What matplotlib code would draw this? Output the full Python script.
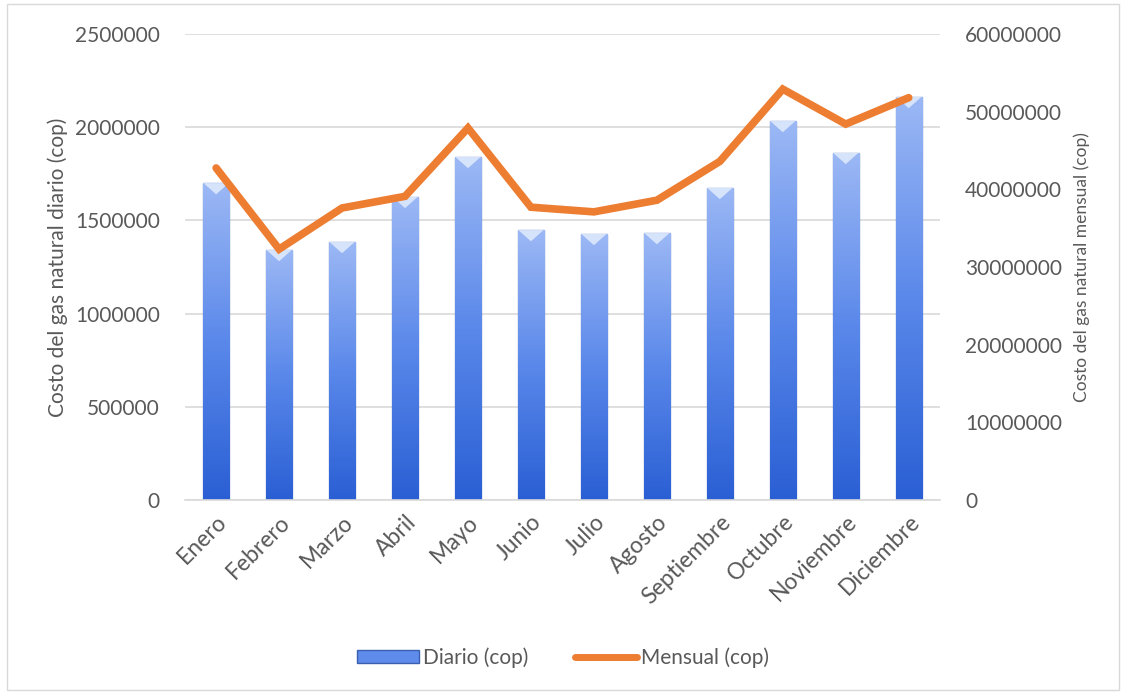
import numpy as np
import matplotlib.pyplot as plt
from matplotlib.patches import Patch, Rectangle
from matplotlib.lines import Line2D
from matplotlib.colors import LinearSegmentedColormap

# Datos
meses = ['Enero', 'Febrero', 'Marzo', 'Abril', 'Mayo', 'Junio', 'Julio',
         'Agosto', 'Septiembre', 'Octubre', 'Noviembre', 'Diciembre']
diario = [1700000, 1341000, 1384000, 1626000, 1840000, 1448000, 1427000,
          1432000, 1674000, 2033000, 1862000, 2162000]
mensual = [42750000, 32300000, 37600000, 39100000, 47900000, 37700000, 37100000,
           38600000, 43600000, 52900000, 48400000, 51800000]

plt.rcParams['font.family'] = ['Lato', 'DejaVu Sans']
gris = '#595959'

fig = plt.figure(figsize=(11.26, 6.94), dpi=100)
# borde exterior
fig.patches.append(Rectangle((0.006, 0.006), 0.988, 0.988, transform=fig.transFigure,
                             fill=False, edgecolor='#d9d9d9', linewidth=1))

ax = fig.add_axes([0.164, 0.2795, 0.671, 0.6715])
ax2 = ax.twinx()

x = np.arange(len(meses))
bars = ax.bar(x, diario, width=0.42, color='#4a7de0', edgecolor='#3a5fae', linewidth=0.9, zorder=2)

# degradado vertical en las barras
cmap = LinearSegmentedColormap.from_list('azul', ['#2a5fd4', '#5a88ea', '#9cb8f5'])
grad = np.linspace(0, 1, 256).reshape(-1, 1)
for b in bars:
    x0, w, h = b.get_x(), b.get_width(), b.get_height()
    im = ax.imshow(grad, cmap=cmap, origin='lower', aspect='auto',
                   extent=[x0, x0 + w, 0, h], zorder=2.1)
    im.set_clip_path(b)
    # bisel superior
    ax.fill([x0 + 0.01, x0 + w - 0.01, x0 + w / 2], [h, h, h - 60000],
            color='#d6e4fb', zorder=2.2, lw=0)

ax2.plot(x, mensual, color='#ED7D31', linewidth=5.5, solid_capstyle='round',
         solid_joinstyle='miter', zorder=3)

ax.set_xlim(-0.5, len(meses) - 0.5)
ax.set_ylim(0, 2500000)
ax2.set_ylim(0, 60000000)
ax.set_yticks(np.arange(0, 2500001, 500000))
ax2.set_yticks(np.arange(0, 60000001, 10000000))
ax.yaxis.set_major_formatter(plt.FuncFormatter(lambda v, p: f'{int(v)}'))
ax2.yaxis.set_major_formatter(plt.FuncFormatter(lambda v, p: f'{int(v)}'))

ax.set_xticks(x)
ax.set_xticklabels(meses, rotation=45, ha='right', rotation_mode='anchor')
ax.grid(axis='y', color='#d9d9d9', linewidth=1.2, zorder=0)
ax.set_axisbelow(True)
ax.set_zorder(ax2.get_zorder() - 1)
ax2.patch.set_visible(False)
ax.patch.set_visible(False)

for a in (ax, ax2):
    for s in a.spines.values():
        s.set_visible(False)
    a.tick_params(length=0, labelsize=15, colors=gris, pad=18)
ax.spines['bottom'].set_visible(True)
ax.spines['bottom'].set_color('#d9d9d9')
ax.spines['bottom'].set_linewidth(1.2)
ax.tick_params(axis='x', pad=8, labelsize=16.5)

ax.set_ylabel('Costo del gas natural diario (cop)', fontsize=15, color=gris, labelpad=5)
ax2.set_ylabel('Costo del gas natural mensual (cop)', fontsize=12.5, color=gris, labelpad=8)

handles = [Patch(facecolor='#5f8ceb', edgecolor='#3a5fae', label='Diario (cop)'),
           Line2D([0], [0], color='#ED7D31', lw=5, solid_capstyle='round', label='Mensual (cop)')]
fig.legend(handles=handles, loc='center', bbox_to_anchor=(0.5, 0.053), ncol=2, frameon=False,
           fontsize=15, labelcolor=gris, handlelength=3, handletextpad=0.2, columnspacing=2.2,
           handleheight=0.6)

fig.savefig('out.png', dpi=100)
